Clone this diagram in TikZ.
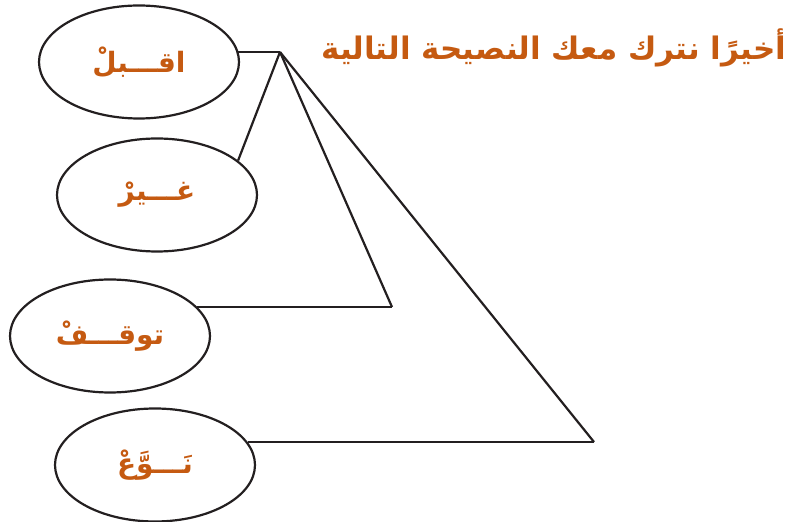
\documentclass[tikz,border=0pt]{standalone}
\usepackage{fontspec}
\usetikzlibrary{shapes.geometric}
\TeXXeTstate=1
\newfontfamily\arabicfont[Script=Arabic]{DejaVu Sans}
\definecolor{rustorange}{RGB}{197,90,17}
\definecolor{inkgray}{RGB}{35,31,32}
\begin{document}
\begin{tikzpicture}[x=1pt,y=1pt,
  wordbox/.style={shape=ellipse,draw=inkgray,line width=2.2pt,minimum width=200pt,minimum height=113pt,
    text=rustorange,font=\arabicfont\bfseries\fontsize{28}{32}\selectfont},
  link/.style={draw=inkgray,line width=2.2pt},
  headline/.style={text=rustorange,font=\arabicfont\bfseries\fontsize{31}{34}\selectfont}]
\useasboundingbox (0,0) rectangle (798,522);
\node(title) at (790,474)[headline,anchor=east]   {\beginR أخيرًا نترك معك النصيحة التالية\endR};
\node(a) at (139,460)[wordbox]        {\beginR اقـــبلْ\endR};
\node(b) at (157,327)[wordbox]        {\beginR غـــيرْ\endR};
\node(c) at (110,186)[wordbox]        {\beginR توقـــفْ\endR};
\node(d) at (155,57)[wordbox]         {\beginR نَـــوَّعْ\endR};
\coordinate(apex) at (280,470);
\coordinate(k3) at (392,215);
\coordinate(k4) at (594,80);
\path [link]
  (apex)     edge                 (apex -| a.6)
  (apex)     edge                 (b.23)
  (apex)     edge                 (k3)
  (k3)       edge                 (k3 -| c.19)
  (apex)     edge                 (k4)
  (k4)       edge                 (k4 -| d.14);
\end{tikzpicture}
\end{document}
